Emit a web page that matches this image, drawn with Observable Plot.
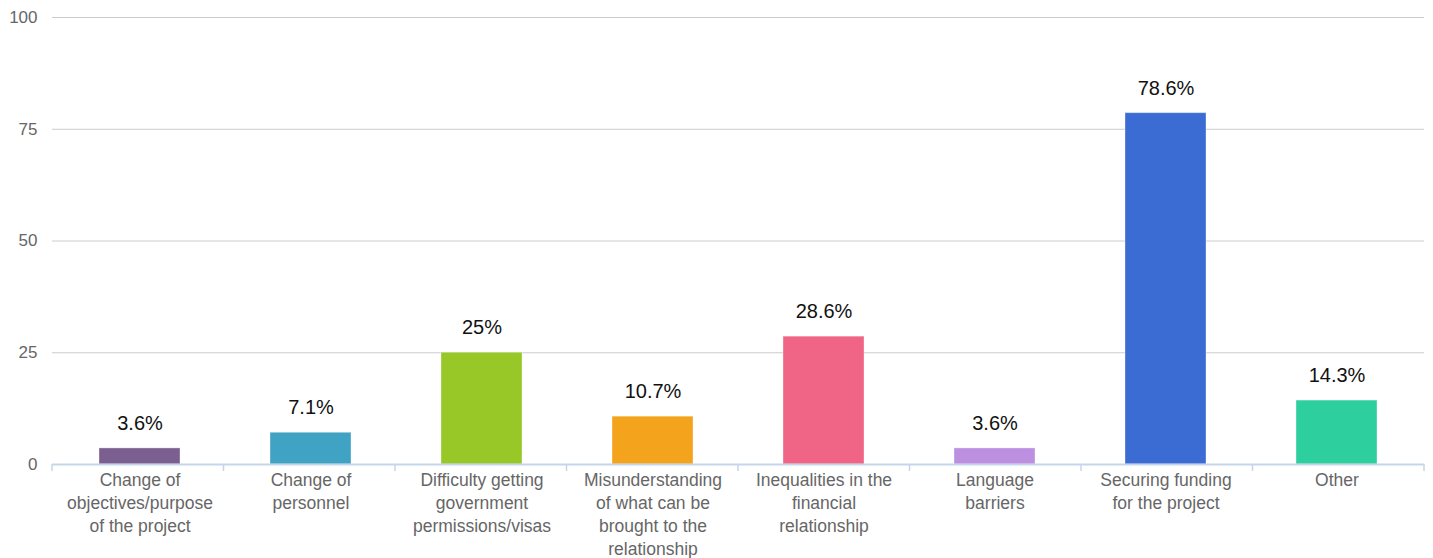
<!DOCTYPE html>
<html>
<head>
<meta charset="utf-8">
<script src="https://cdn.jsdelivr.net/npm/d3@7"></script>
<script src="https://cdn.jsdelivr.net/npm/@observablehq/plot@0.6"></script>
<style>
  body { margin: 0; background: #fff; }
  #chart svg { display: block; }
</style>
</head>
<body>
<div id="chart"></div>
<script>
const categories = [
  "Change of objectives/purpose of the project",
  "Change of personnel",
  "Difficulty getting government permissions/visas",
  "Misunderstanding of what can be brought to the relationship",
  "Inequalities in the financial relationship",
  "Language barriers",
  "Securing funding for the project",
  "Other"
];
const tickLabels = [
  "Change of\nobjectives/purpose\nof the project",
  "Change of\npersonnel",
  "Difficulty getting\ngovernment\npermissions/visas",
  "Misunderstanding\nof what can be\nbrought to the\nrelationship",
  "Inequalities in the\nfinancial\nrelationship",
  "Language\nbarriers",
  "Securing funding\nfor the project",
  "Other"
];
const values = [3.6, 7.1, 25, 10.7, 28.6, 3.6, 78.6, 14.3];
const colors = ["#7c5f91", "#40a3c3", "#97c827", "#f4a31c", "#f06585", "#bd8fe1", "#3a6cd3", "#2ecf9e"];
const yTicks = [0, 25, 50, 75, 100];

const data = categories.map((c, i) => ({cat: c, label: tickLabels[i], value: values[i], color: colors[i]}));

const W = 1433, H = 558;
const ml = 52, mr = 9, mt = 17, mb = 94;
const font = "'Liberation Sans', Arial, Helvetica, sans-serif";

const boundaryTicks = (index, scales, values, dims) => {
  const n = categories.length;
  const step = (dims.width - dims.marginLeft - dims.marginRight) / n;
  const y0 = scales.y(0);
  const g = d3.create("svg:g");
  for (let i = 0; i <= n; i++) {
    const x = dims.marginLeft + i * step;
    g.append("line")
      .attr("x1", x).attr("x2", x)
      .attr("y1", y0).attr("y2", y0 + 7)
      .attr("stroke", "#c6d6ea").attr("stroke-width", 1.5);
  }
  return g.node();
};

const chart = Plot.plot({
  width: W,
  height: H,
  marginLeft: ml,
  marginRight: mr,
  marginTop: mt,
  marginBottom: mb,
  style: {fontFamily: font, background: "#fff"},
  x: {domain: categories, paddingInner: 0.525, paddingOuter: 0.2625, axis: null},
  y: {domain: [0, 100], axis: null},
  color: {type: "identity"},
  marks: [
    Plot.ruleY(yTicks.filter(d => d > 0), {stroke: "#cccccc", strokeWidth: 1}),
    Plot.text(yTicks, {
      x: null, y: d => d, text: d => String(d), frameAnchor: "left",
      textAnchor: "end", dx: -15, fontSize: 17, fill: "#666"
    }),
    Plot.barY(data, {x: "cat", y: "value", fill: "color", stroke: "#ffffff", strokeOpacity: 0.35, strokeWidth: 1}),
    Plot.ruleY([0], {stroke: "#c6d6ea", strokeWidth: 2}),
    boundaryTicks,
    Plot.text(data, {
      x: "cat", y: "value", text: d => `${d.value}%`,
      lineAnchor: "middle", dy: -25, fontSize: 20, fill: "#111"
    }),
    Plot.text(data, {
      x: "cat", y: () => 0, text: "label",
      lineAnchor: "top", dy: 5, fontSize: 17.5, lineHeight: 1.32, fill: "#666"
    })
  ]
});

document.getElementById("chart").appendChild(chart);
</script>
</body>
</html>
